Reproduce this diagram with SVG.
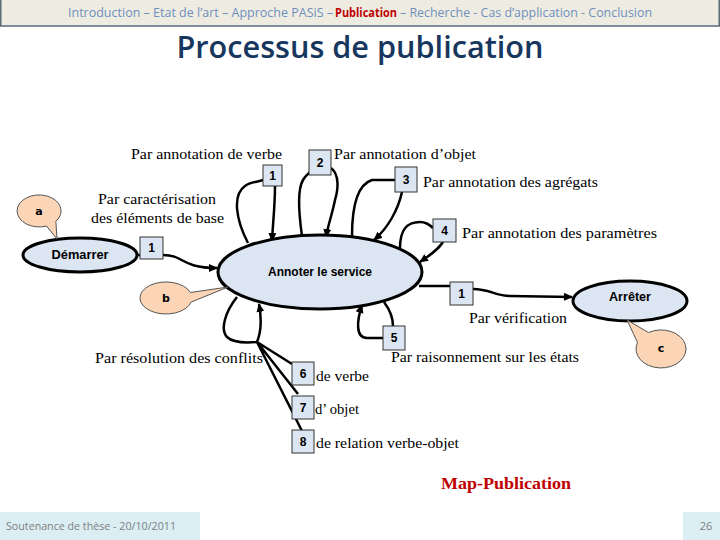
<svg xmlns="http://www.w3.org/2000/svg" width="720" height="540" viewBox="0 0 720 540">
<defs>
<marker id="arr" markerUnits="userSpaceOnUse" markerWidth="10" markerHeight="10" refX="8" refY="5" orient="auto">
<path d="M0,1 L9,5 L0,9 Z" fill="#000"/>
</marker>
<style>
.edge{fill:none;stroke:#000;stroke-width:2.5}
.node{fill:#DCE6F2;stroke:#000;stroke-width:3}
.box{fill:#DCE6F2;stroke:#333;stroke-width:1}
.num{font-family:"Liberation Sans",Arial,sans-serif;font-weight:bold;font-size:12px;fill:#000;text-anchor:middle}
.lbl{font-family:"Liberation Serif","Times New Roman",serif;font-size:14px;fill:#000}
.nl{font-family:"Liberation Sans",Arial,sans-serif;font-weight:bold;font-size:12px;fill:#000;text-anchor:middle}
.call{fill:#FBD5B5;stroke:#555;stroke-width:1}
.cl{font-family:"DejaVu Sans",sans-serif;font-weight:bold;font-size:11px;fill:#000;text-anchor:middle}
.hd{font-family:"Open Sans","Liberation Sans",sans-serif;font-size:12px;fill:#6F8FBF}
</style>
</defs>
<rect width="720" height="540" fill="#fff"/>
<!-- header -->
<rect x="0.75" y="-1" width="718.5" height="27" fill="#EEECE1" stroke="#5A6B7D" stroke-width="1.5"/>
<text class="hd" x="68" y="17" textLength="265" lengthAdjust="spacingAndGlyphs">Introduction – Etat de l’art – Approche PASiS – </text>
<text class="hd" x="335" y="17" textLength="62" lengthAdjust="spacingAndGlyphs" style="fill:#C00000;font-weight:bold">Publication</text>
<text class="hd" x="400" y="17" textLength="252" lengthAdjust="spacingAndGlyphs"> – Recherche - Cas d’application - Conclusion</text>
<text x="360" y="58" text-anchor="middle" font-family="Open Sans, Liberation Sans, sans-serif" font-size="30" font-weight="600" fill="#17375E" textLength="367" lengthAdjust="spacingAndGlyphs">Processus de publication</text>

<g id="connectors">
<path class="edge" d="M137,255 L163,255 C185,255 180,268 217,268" marker-end="url(#arr)"/>
<path class="edge" d="M248,243 C236,220 232,195 245,186 C250,182 258,182 263,180"/>
<path class="edge" d="M275,186 C275,205 273,222 272,241" marker-end="url(#arr)"/>
<path class="edge" d="M302,236 C299,215 297,190 303,180 C306,175 308,174 310,172"/>
<path class="edge" d="M331,168 C340,175 338,190 335,200 C332,215 328,225 326,237" marker-end="url(#arr)"/>
<path class="edge" d="M352,236 C352,210 356,185 372,180 L395,180"/>
<path class="edge" d="M402,192 C398,210 388,228 374,240" marker-end="url(#arr)"/>
<path class="edge" d="M400,248 C400,232 405,222 420,222 C426,222 430,225 433,228"/>
<path class="edge" d="M443,242 C438,250 430,255 420,262" marker-end="url(#arr)"/>
<path class="edge" d="M384,302 C390,310 393,318 393,326"/>
<path class="edge" d="M383,338 L367,338 C355,338 357,320 362,305" marker-end="url(#arr)"/>
<path class="edge" d="M237,297 C225,312 220,330 227,337 C232,342 245,343 257,342 C262,330 261,315 259,304" marker-end="url(#arr)"/>
<path class="edge" d="M257,342 L292,364 M257,342 L298,394 M257,342 L302,431"/>
<path class="edge" d="M419,286 L450,286"/>
<path class="edge" d="M473,289 C490,289 495,296 510,296 L572,297" marker-end="url(#arr)"/>
</g>

<g id="node-demarrer">
<ellipse class="node" cx="80" cy="255" rx="57" ry="17"/>
<text class="nl" x="80" y="259" textLength="57" lengthAdjust="spacingAndGlyphs">Démarrer</text>
</g>
<g id="node-annoter">
<ellipse class="node" cx="320" cy="272" rx="102" ry="37"/>
<text class="nl" x="320" y="276" textLength="104" lengthAdjust="spacingAndGlyphs">Annoter le service</text>
</g>
<g id="node-arreter">
<ellipse class="node" cx="630" cy="301" rx="57" ry="20"/>
<text class="nl" x="630" y="301" textLength="42" lengthAdjust="spacingAndGlyphs">Arrêter</text>
</g>

<g id="callout-a">
<path class="call" d="M55.85,221.3 A22,16 0 1 0 46.5,226 L57,239 Z"/>
<text class="cl" x="39" y="215">a</text>
</g>
<g id="callout-b">
<path class="call" d="M191.1,302.1 A26,16 0 1 1 190.4,292.5 L228,287 Z"/>
<text class="cl" x="166" y="302">b</text>
</g>
<g id="callout-c">
<path class="call" d="M648.5,332.5 A25,19 0 1 1 637.5,342.5 L627,320 Z"/>
<text class="cl" x="661" y="352">c</text>
</g>

<g id="box-d1"><rect class="box" x="140" y="237" width="23" height="22"/><text class="num" x="151.5" y="252">1</text></g>
<g id="box-1"><rect class="box" x="263" y="165" width="19" height="21"/><text class="num" x="272.5" y="180">1</text></g>
<g id="box-2"><rect class="box" x="309" y="150" width="22" height="25"/><text class="num" x="320" y="167">2</text></g>
<g id="box-3"><rect class="box" x="395" y="167" width="22" height="25"/><text class="num" x="406" y="184">3</text></g>
<g id="box-4"><rect class="box" x="433" y="219" width="23" height="23"/><text class="num" x="444.5" y="235">4</text></g>
<g id="box-5"><rect class="box" x="383" y="326" width="22" height="24"/><text class="num" x="394" y="342">5</text></g>
<g id="box-v1"><rect class="box" x="450" y="282" width="23" height="23"/><text class="num" x="461.5" y="298">1</text></g>
<g id="box-6"><rect class="box" x="292" y="362" width="22" height="23"/><text class="num" x="303" y="378">6</text></g>
<g id="box-7"><rect class="box" x="292" y="396" width="22" height="23"/><text class="num" x="303" y="412">7</text></g>
<g id="box-8"><rect class="box" x="292" y="430" width="22" height="23"/><text class="num" x="303" y="446">8</text></g>

<g id="labels">
<text class="lbl" x="131" y="159" textLength="151" lengthAdjust="spacingAndGlyphs">Par annotation de verbe</text>
<text class="lbl" x="334" y="159" textLength="142" lengthAdjust="spacingAndGlyphs">Par annotation d’objet</text>
<text class="lbl" x="423" y="187" textLength="175" lengthAdjust="spacingAndGlyphs">Par annotation des agrégats</text>
<text class="lbl" x="462" y="238" textLength="195" lengthAdjust="spacingAndGlyphs">Par  annotation des paramètres</text>
<text class="lbl" x="98" y="204" textLength="118" lengthAdjust="spacingAndGlyphs">Par caractérisation</text>
<text class="lbl" x="91" y="223" textLength="133" lengthAdjust="spacingAndGlyphs">des éléments de base</text>
<text class="lbl" x="469" y="323" textLength="98" lengthAdjust="spacingAndGlyphs">Par vérification</text>
<text class="lbl" x="391" y="362" textLength="188" lengthAdjust="spacingAndGlyphs">Par raisonnement sur les états</text>
<text class="lbl" x="95" y="363" textLength="168" lengthAdjust="spacingAndGlyphs">Par résolution des conflits</text>
<text class="lbl" x="316" y="381" textLength="53" lengthAdjust="spacingAndGlyphs">de verbe</text>
<text class="lbl" x="315" y="414" textLength="44" lengthAdjust="spacingAndGlyphs">d’ objet</text>
<text class="lbl" x="316" y="448" textLength="143" lengthAdjust="spacingAndGlyphs">de relation verbe-objet</text>
<text x="506" y="489" text-anchor="middle" font-family="Liberation Serif, Times New Roman, serif" font-weight="bold" font-size="17" fill="#C00000" textLength="130" lengthAdjust="spacingAndGlyphs">Map-Publication</text>
</g>

<!-- footer -->
<rect x="0" y="512" width="200" height="28" fill="#DAEEF3"/>
<text x="6" y="530" font-family="Open Sans, Liberation Sans, sans-serif" font-size="11" fill="#7F7F7F" textLength="170" lengthAdjust="spacingAndGlyphs">Soutenance de thèse - 20/10/2011</text>
<rect x="683" y="512" width="37" height="28" fill="#DAEEF3"/>
<text x="706" y="530" text-anchor="middle" font-family="Open Sans, Liberation Sans, sans-serif" font-size="11" fill="#7F7F7F">26</text>
</svg>
